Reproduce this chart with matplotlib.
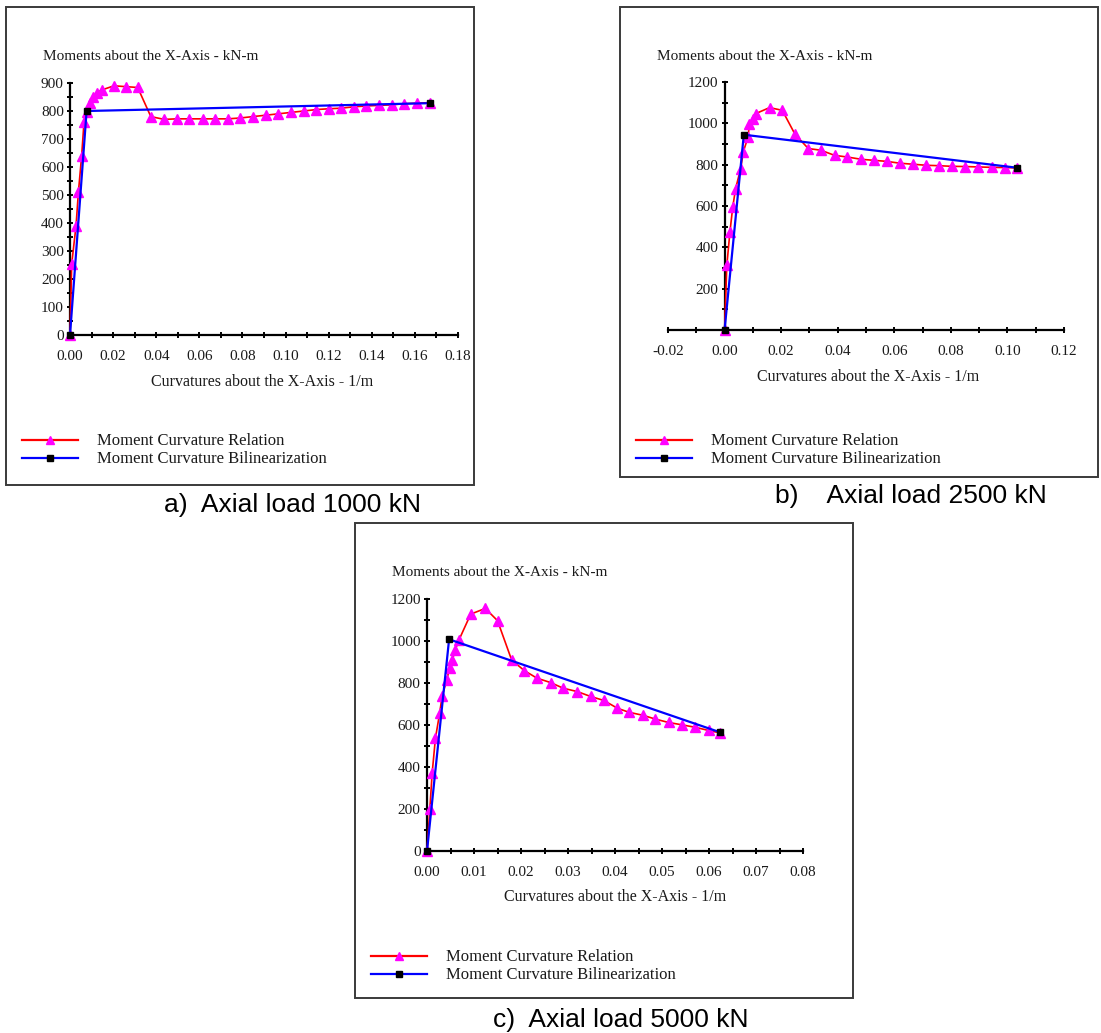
import matplotlib
matplotlib.use("Agg")
import matplotlib.pyplot as plt
from matplotlib.lines import Line2D
from matplotlib.patches import Rectangle
from matplotlib.ticker import MultipleLocator, FormatStrFormatter

# ---- data ----
# a) axial load 1000 kN
curv_a = [0.0, 0.0008, 0.0028, 0.0039, 0.0054, 0.0065, 0.0077, 0.0093, 0.0108, 0.0124,
          0.0147, 0.0204, 0.0259, 0.0314, 0.0375, 0.0437, 0.0495, 0.0554, 0.0615, 0.0673,
          0.0732, 0.0790, 0.0848, 0.0909, 0.0967, 0.1026, 0.1084, 0.1141, 0.1200, 0.1257,
          0.1316, 0.1375, 0.1432, 0.1494, 0.1550, 0.1610, 0.1672]
mom_a = [0, 255, 390, 510, 640, 760, 795, 830, 850, 865,
         875, 890, 887, 884, 780, 770, 772, 772, 772, 772,
         772, 775, 780, 785, 790, 795, 800, 805, 808, 810,
         815, 818, 820, 822, 826, 828, 830]
bil_curv_a = [0.0, 0.0077, 0.1672]
bil_mom_a = [0, 800, 828]

# b) axial load 2500 kN
curv_b = [0.0, 0.0008, 0.0019, 0.0029, 0.0039, 0.0057, 0.0066, 0.0083, 0.0088, 0.0100,
          0.0110, 0.0159, 0.0204, 0.0249, 0.0296, 0.0340, 0.0389, 0.0434, 0.0483, 0.0528,
          0.0573, 0.0620, 0.0667, 0.0713, 0.0758, 0.0803, 0.0850, 0.0897, 0.0944, 0.0992,
          0.1035]
mom_b = [0, 314, 475, 596, 684, 781, 861, 934, 998, 1022,
         1047, 1076, 1063, 947, 878, 870, 845, 837, 826, 821,
         816, 807, 802, 797, 795, 792, 791, 789, 787, 786,
         784]
bil_curv_b = [0.0, 0.0068, 0.1035]
bil_mom_b = [0, 945, 785]

# c) axial load 5000 kN
curv_c = [0.0, 0.0006, 0.0011, 0.0018, 0.0027, 0.0032, 0.0042, 0.0048, 0.0054, 0.0060,
          0.0068, 0.0093, 0.0124, 0.0150, 0.0180, 0.0207, 0.0234, 0.0263, 0.0290, 0.0320,
          0.0348, 0.0376, 0.0405, 0.0429, 0.0460, 0.0486, 0.0514, 0.0542, 0.0571, 0.0599,
          0.0624]
mom_c = [0, 198, 372, 538, 657, 736, 815, 870, 910, 957,
         1005, 1128, 1155, 1097, 910, 859, 823, 802, 775, 759,
         736, 717, 680, 661, 646, 628, 612, 601, 589, 574,
         562]
bil_curv_c = [0.0, 0.0047, 0.0624]
bil_mom_c = [0, 1008, 565]

captions = ["a)  Axial load 1000 kN", "b)    Axial load 2500 kN", "c)  Axial load 5000 kN"]
title_txt = "Moments about the X-Axis - kN-m"
xlabel_txt = "Curvatures about the X-Axis - 1/m"
leg_labels = ["Moment Curvature Relation", "Moment Curvature Bilinearization"]

SERIF = "Liberation Serif"
SANS = "Liberation Sans"
W, H = 1101, 1033

fig = plt.figure(figsize=(W / 100, H / 100), dpi=100)


def fx(x):
    return x / W


def fy(y):
    return 1 - y / H


def make_panel(box, ax_px, xlim, ylim, xmaj, xmin, ymaj, ymin, yfirst,
               curv, mom, bcurv, bmom, xlab_pos, caption, cap_pos):
    # frame around the panel
    bx0, by0, bx1, by1 = box
    fig.add_artist(Rectangle((fx(bx0), fy(by1)), fx(bx1 - bx0), (by1 - by0) / H,
                             transform=fig.transFigure, fill=False,
                             edgecolor="#3a3a3a", lw=1.4))
    x0, x1, ytop, ybot = ax_px
    ax = fig.add_axes([fx(x0), fy(ybot), fx(x1 - x0), (ybot - ytop) / H])
    ax.set_xlim(*xlim)
    ax.set_ylim(*ylim)
    ax.patch.set_alpha(0)
    for s in ["top", "right"]:
        ax.spines[s].set_visible(False)
    ax.spines["left"].set_position(("data", 0))
    ax.spines["bottom"].set_position(("data", 0))
    for s in ["left", "bottom"]:
        ax.spines[s].set_linewidth(1.6)
    ax.xaxis.set_major_locator(MultipleLocator(xmaj))
    ax.xaxis.set_minor_locator(MultipleLocator(xmin))
    ax.yaxis.set_major_locator(MultipleLocator(ymaj))
    ax.yaxis.set_minor_locator(MultipleLocator(ymin))
    ax.xaxis.set_major_formatter(FormatStrFormatter("%.2f"))
    ax.set_yticks([v for v in range(yfirst, ylim[1] + 1, ymaj)])
    ax.tick_params(which="both", direction="inout", length=5, width=1.4, color="black")
    ax.tick_params(axis="both", labelsize=11, labelcolor="#1a1a1a")
    ax.tick_params(axis="x", pad=8)
    ax.tick_params(axis="y", pad=2)
    for lab in ax.get_xticklabels() + ax.get_yticklabels():
        lab.set_fontfamily(SERIF)

    ax.plot(curv, mom, color="red", lw=1.2, marker="^", ms=6.5,
            mfc="magenta", mec="magenta", clip_on=False, zorder=3)
    ax.plot(bcurv, bmom, color="blue", lw=1.6, marker="s", ms=4.5,
            mfc="black", mec="black", clip_on=False, zorder=4)

    fig.text(fx(bx0 + 37), fy(by0 + 49), title_txt, family=SERIF, fontsize=11,
             color="#1a1a1a", va="center", ha="left")
    fig.text(fx(xlab_pos[0]), fy(xlab_pos[1]), xlabel_txt, family=SERIF, fontsize=11.5,
             color="#1a1a1a", va="center", ha="center")

    # legend drawn by hand to sit exactly like the original
    lx0, lx1 = bx0 + 16, bx0 + 72
    for i, (col, mk, mc) in enumerate([("red", "^", "magenta"), ("blue", "s", "black")]):
        yy = by0 + 433 + 18 * i
        fig.add_artist(Line2D([fx(lx0), fx(lx1)], [fy(yy), fy(yy)], color=col,
                              lw=1.6, transform=fig.transFigure))
        fig.add_artist(Line2D([fx((lx0 + lx1) / 2)], [fy(yy)], marker=mk,
                              ms=6 if mk == "^" else 4.5, mfc=mc, mec=mc,
                              transform=fig.transFigure))
        fig.text(fx(bx0 + 91), fy(yy + 1), leg_labels[i], family=SERIF, fontsize=12,
                 color="#1a1a1a", va="center", ha="left")

    fig.text(fx(cap_pos[0]), fy(cap_pos[1]), caption, family=SANS, fontsize=19,
             color="black", va="center", ha="center")
    return ax


make_panel((6, 7, 474, 485), (70, 458, 83, 335), (0, 0.18), (0, 900),
           0.02, 0.01, 100, 50, 0,
           curv_a, mom_a, bil_curv_a, bil_mom_a, (262, 382), captions[0], (293, 505))
make_panel((620, 7, 1098, 477), (668, 1064, 82, 330), (-0.02, 0.12), (0, 1200),
           0.02, 0.01, 200, 100, 200,
           curv_b, mom_b, bil_curv_b, bil_mom_b, (868, 377), captions[1], (911, 496))
make_panel((355, 523, 853, 998), (427, 803, 599, 851), (0, 0.08), (0, 1200),
           0.01, 0.005, 200, 100, 0,
           curv_c, mom_c, bil_curv_c, bil_mom_c, (615, 897), captions[2], (621, 1020))

fig.savefig("out.png", dpi=100, facecolor="white")
